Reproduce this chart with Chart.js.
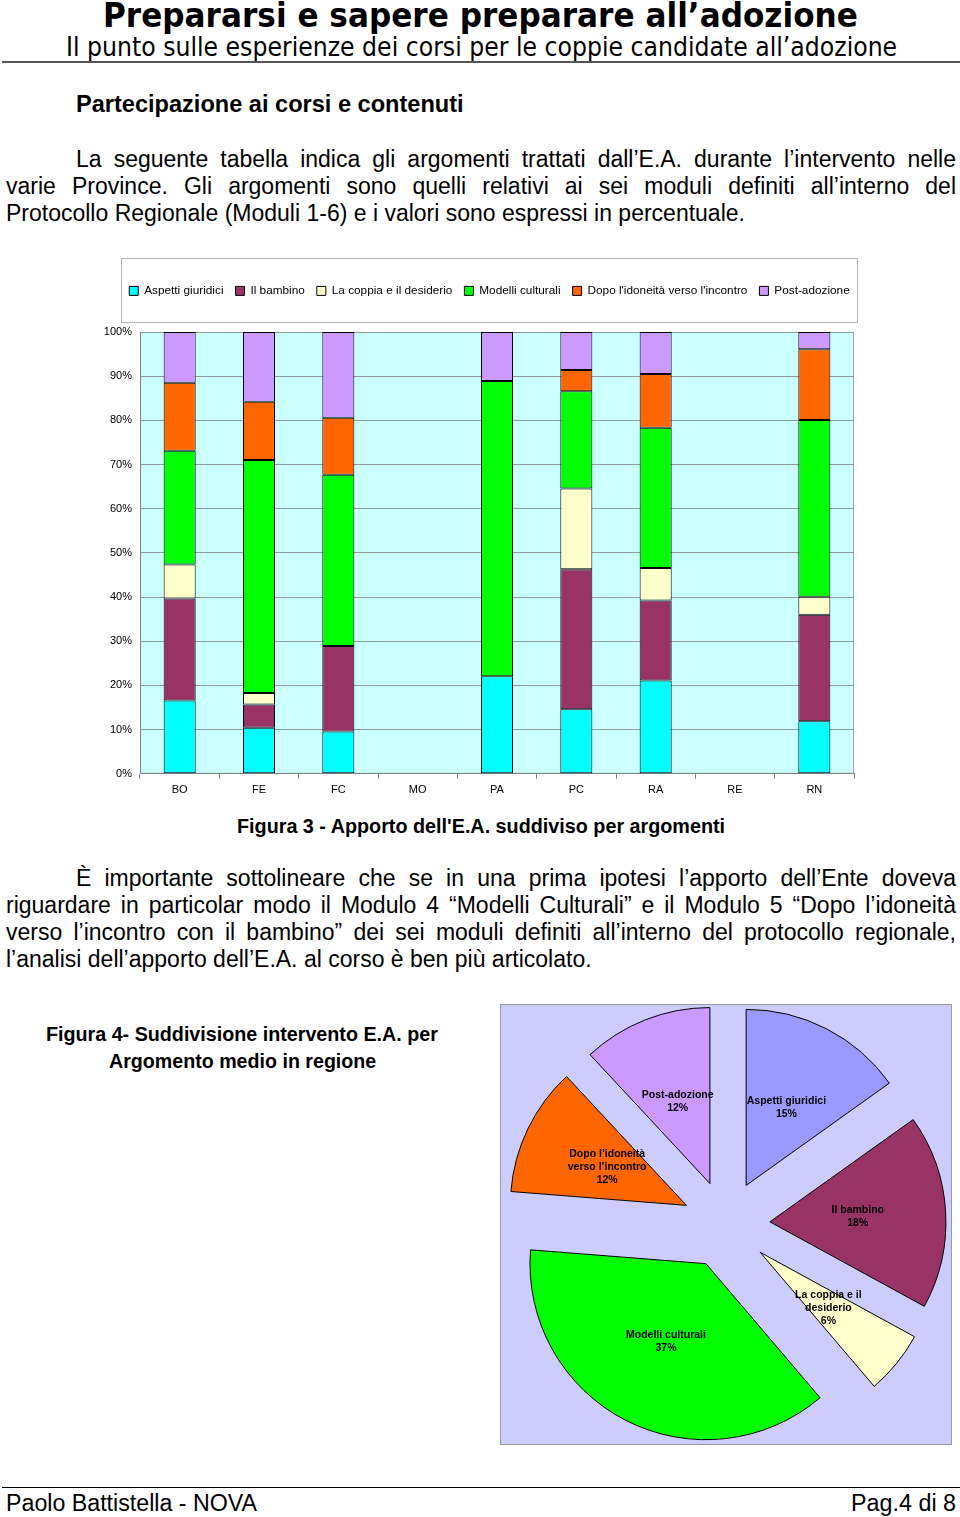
<!DOCTYPE html>
<html lang="it">
<head>
<meta charset="utf-8">
<title>Prepararsi e sapere preparare all'adozione</title>
<script src="https://cdn.jsdelivr.net/npm/chart.js@4.4.1/dist/chart.umd.min.js"></script>
<style>
  html, body { margin: 0; padding: 0; background: #fff; }
  body { width: 960px; height: 1517px; position: relative; overflow: hidden;
         font-family: "Liberation Sans", Arial, sans-serif; color: #000; }
  .abs { position: absolute; white-space: nowrap; }
  .fit { transform-origin: 0 0; }
  .title { font: bold 33px/33px "DejaVu Sans", sans-serif; }
  .subtitle { font: 26px/26px "DejaVu Sans", sans-serif; }
  .rule { position: absolute; left: 2px; width: 958px; background: #555; }
  .heading { font-weight: bold; font-size: 23.5px; line-height: 23.5px; }
  .caption { font-weight: bold; font-size: 20px; line-height: 20px; }
  .para { position: absolute; left: 6px; width: 950px; font-size: 23px; line-height: 27px; }
  .para div { white-space: nowrap; }
  .para .j { text-align: justify; text-align-last: justify; white-space: normal; }
  .para .ind { padding-left: 70px; }
  .footer { font-size: 23.3px; line-height: 23.3px; }
  #barBox { position: absolute; left: 95px; top: 250px; width: 785px; height: 556px; }
  #pieBox { position: absolute; left: 500px; top: 1004px; width: 450px; height: 439px;
            background: #ccccff; border: 1px solid #9a9a9a; }
  canvas { display: block; }
</style>
</head>
<body>

<div class="abs fit title" data-w="755" style="left:103px; top:-1px;">Prepararsi e sapere preparare all’adozione</div>
<div class="abs fit subtitle" data-w="831" style="left:66px; top:34px;">Il punto sulle esperienze dei corsi per le coppie candidate all’adozione</div>
<div class="rule" style="top:61px; height:2px;"></div>

<div class="abs fit heading" data-w="388" style="left:76px; top:93px;">Partecipazione ai corsi e contenuti</div>

<div class="para" style="top:145.5px;">
  <div class="j ind">La seguente tabella indica gli argomenti trattati dall’E.A. durante l’intervento nelle</div>
  <div class="j">varie Province. Gli argomenti sono quelli relativi ai sei moduli definiti all’interno del</div>
  <div>Protocollo Regionale (Moduli 1-6) e i valori sono espressi in percentuale.</div>
</div>

<div id="barBox"><canvas id="barChart" width="785" height="556"></canvas></div>

<div class="abs fit caption" data-w="488" style="left:237px; top:816px;">Figura 3 - Apporto dell'E.A. suddiviso per argomenti</div>

<div class="para" style="top:864.5px;">
  <div class="j ind">È importante sottolineare che se in una prima ipotesi l’apporto dell’Ente doveva</div>
  <div class="j">riguardare in particolar modo il Modulo 4 “Modelli Culturali” e il Modulo 5 “Dopo l’idoneità</div>
  <div class="j">verso l’incontro con il bambino” dei sei moduli definiti all’interno del protocollo regionale,</div>
  <div>l’analisi dell’apporto dell’E.A. al corso è ben più articolato.</div>
</div>

<div class="abs fit caption" data-w="392" style="left:46px; top:1024px;">Figura 4- Suddivisione intervento E.A. per</div>
<div class="abs fit caption" data-w="267" style="left:109px; top:1051px;">Argomento medio in regione</div>

<div id="pieBox"><canvas id="pieChart" width="450" height="439"></canvas></div>

<div class="rule" style="top:1487px; height:1px; background:#000;"></div>
<div class="abs fit footer" data-w="251" style="left:6px; top:1492px;">Paolo Battistella - NOVA</div>
<div class="abs footer" style="right:4px; top:1492px;">Pag.4 di 8</div>

<script>
// Figura 3: percentuali per provincia
const provinces = ['BO', 'FE', 'FC', 'MO', 'PA', 'PC', 'RA', 'RE', 'RN'];
const argomenti = ['Aspetti giuridici', 'Il bambino', 'La coppia e il desiderio', 'Modelli culturali',
                   "Dopo l'idoneità verso l'incontro", 'Post-adozione'];

const aspettiGiuridici = [16.6, 10.4,  9.6, 0, 22.1, 14.6, 21.1, 0, 11.9];
const ilBambino        = [23.1,  5.3, 19.3, 0,  0,   31.7, 18.1, 0, 24.1];
const coppiaDesiderio  = [ 7.7,  2.6,  0,   0,  0,   18.3,  7.4, 0,  4.1];
const modelliCulturali = [25.7, 52.7, 38.8, 0, 66.8, 22.0, 31.7, 0, 40.0];
const dopoIdoneita     = [15.4, 13.2, 12.9, 0,  0,    4.8, 12.2, 0, 16.0];
const postAdozione     = [11.5, 15.8, 19.4, 0, 11.1,  8.6,  9.5, 0,  3.9];

const yTicks = [0, 10, 20, 30, 40, 50, 60, 70, 80, 90, 100];

// Figura 4: media regionale
const mediaRegione = [15.1, 17.8, 5.8, 37.4, 11.8, 11.9];
const pieLabelLines = [
  ['Aspetti giuridici'],
  ['Il bambino'],
  ['La coppia e il', 'desiderio'],
  ['Modelli culturali'],
  ['Dopo l’idoneità', 'verso l’incontro'],
  ['Post-adozione']
];

const barColors = ['#00ffff', '#993366', '#ffffcc', '#00ff00', '#ff6600', '#cc99ff'];
const pieColors = ['#9999ff', '#993366', '#ffffcc', '#00ff00', '#ff6600', '#cc99ff'];
const FONT = '"Liberation Sans", Arial, sans-serif';

(function() {
    const series = [aspettiGiuridici, ilBambino, coppiaDesiderio, modelliCulturali, dopoIdoneita, postAdozione];

    const plotBg = {
        id: 'plotBg',
        beforeDraw(chart) {
            const { ctx, chartArea: a } = chart;
            ctx.save();
            ctx.fillStyle = '#ccffff';
            ctx.fillRect(a.left, a.top, a.width, a.height);
            ctx.strokeStyle = '#9aaaaa';
            ctx.lineWidth = 1;
            ctx.strokeRect(a.left + 0.5, a.top + 0.5, a.width - 1, a.height - 1);
            ctx.restore();
        }
    };

    // one-row legend in a taller band, framed, a bit wider than the plot
    const legendFrame = {
        id: 'legendFrame',
        afterInit(chart) {
            const lg = chart.legend;
            const fit = lg.fit;
            lg.fit = function() {
                this.maxWidth = Math.max(this.maxWidth, 800);
                fit.call(this);
                this.height = 59;
            };
        },
        afterLayout(chart) {
            const a = chart.chartArea;
            chart.legend.left = a.left - 25;
            chart.legend.right = a.right + 10;
            chart.legend.width = chart.legend.right - chart.legend.left;
        },
        afterDraw(chart) {
            const boxes = chart.legend.legendHitBoxes;
            if (!boxes || !boxes.length) return;
            const first = boxes[0], last = boxes[boxes.length - 1];
            const cy = first.top + first.height / 2;
            const x0 = Math.round(first.left - 8) + 0.5;
            const x1 = Math.round(last.left + last.width + 7) + 0.5;
            const ctx = chart.ctx;
            ctx.save();
            ctx.strokeStyle = '#b4b4b4';
            ctx.lineWidth = 1;
            ctx.strokeRect(x0, Math.round(cy - 33) + 0.5, x1 - x0, 64);
            ctx.restore();
        }
    };

    new Chart(document.getElementById('barChart'), {
        type: 'bar',
        data: {
            labels: provinces,
            datasets: argomenti.map((name, i) => ({
                label: name,
                data: series[i],
                backgroundColor: barColors[i],
                borderColor: '#000',
                borderWidth: 1,
                borderSkipped: false,
                inflateAmount: 0,
                barPercentage: 0.404,
                categoryPercentage: 1
            }))
        },
        options: {
            responsive: false,
            animation: false,
            events: [],
            layout: { padding: { left: 0, right: 26, top: 23, bottom: 4 } },
            scales: {
                x: {
                    stacked: true,
                    grid: { drawOnChartArea: false, tickLength: 5, color: '#808080' },
                    border: { color: '#808080' },
                    ticks: { color: '#000', padding: 5, font: { family: FONT, size: 11 } }
                },
                y: {
                    stacked: true,
                    min: 0,
                    max: 100,
                    afterFit: (s) => { s.width = 45; },
                    afterBuildTicks: (s) => { s.ticks = yTicks.map(v => ({ value: v })); },
                    grid: { color: '#8c9c9c', drawTicks: false },
                    border: { color: '#808080' },
                    ticks: {
                        padding: 8,
                        color: '#000',
                        font: { family: FONT, size: 11 },
                        callback: (value) => value + '%'
                    }
                }
            },
            plugins: {
                legend: {
                    position: 'top',
                    labels: {
                        boxWidth: 9,
                        boxHeight: 9,
                        padding: 12,
                        color: '#000',
                        font: { family: FONT, size: 11.8 }
                    }
                },
                tooltip: { enabled: false }
            }
        },
        plugins: [plotBg, legendFrame]
    });

    // exploded pie: push every slice out along its bisector, label at its middle
    const explode = {
        id: 'explode',
        beforeDatasetDraw(chart, args) {
            args.meta.data.forEach(arc => {
                const h = (arc.startAngle + arc.endAngle) / 2;
                arc._cx = arc.x;
                arc._cy = arc.y;
                arc.x += Math.cos(h) * 44;
                arc.y += Math.sin(h) * 44;
            });
        },
        afterDatasetDraw(chart, args) {
            const ctx = chart.ctx;
            const data = chart.data.datasets[0].data;
            const total = data.reduce((a, b) => a + b, 0);
            ctx.save();
            ctx.fillStyle = '#000';
            ctx.font = 'bold 10.5px ' + FONT;
            ctx.textAlign = 'center';
            ctx.textBaseline = 'middle';
            args.meta.data.forEach((arc, i) => {
                const p = arc.tooltipPosition();
                const lines = pieLabelLines[i].concat(Math.round(data[i] / total * 100) + '%');
                const y0 = p.y - (lines.length - 1) * 13 / 2;
                lines.forEach((t, k) => ctx.fillText(t, p.x, y0 + k * 13));
                arc.x = arc._cx;
                arc.y = arc._cy;
            });
            ctx.restore();
        }
    };

    new Chart(document.getElementById('pieChart'), {
        type: 'pie',
        data: {
            labels: argomenti,
            datasets: [{
                data: mediaRegione,
                backgroundColor: pieColors,
                borderColor: '#000',
                borderWidth: 1,
                radius: 176
            }]
        },
        options: {
            responsive: false,
            animation: false,
            events: [],
            layout: { padding: 0 },
            plugins: {
                legend: { display: false },
                tooltip: { enabled: false }
            }
        },
        plugins: [explode]
    });
})();

// squeeze the headline texts to their widths on the page
document.fonts.ready.then(() => {
    document.querySelectorAll('.fit').forEach(el => {
        const w = parseFloat(el.dataset.w);
        el.style.transform = 'scaleX(' + (w / el.offsetWidth) + ')';
    });
});
</script>
</body>
</html>
